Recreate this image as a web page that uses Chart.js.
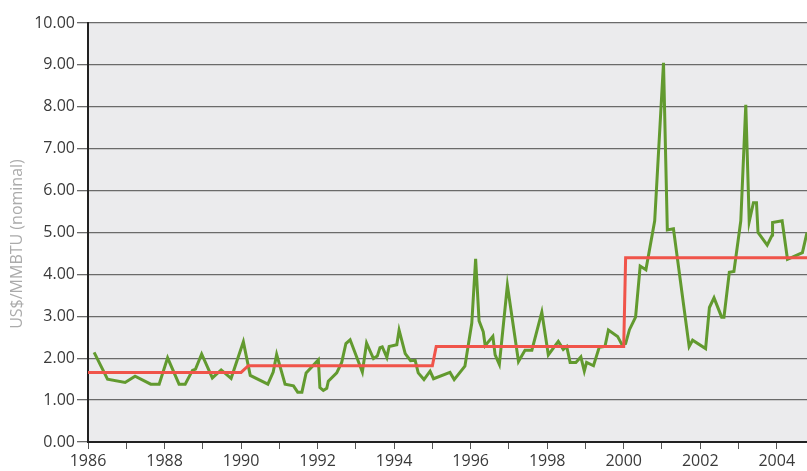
<!DOCTYPE html>
<html>
<head>
<meta charset="utf-8">
<script src="https://cdn.jsdelivr.net/npm/chart.js@4.4.1/dist/chart.umd.min.js"></script>
<style>
  html, body { margin: 0; padding: 0; background: #ffffff; }
  #wrap { width: 807px; height: 471px; }
</style>
</head>
<body>
<div id="wrap"><canvas id="gasChart" width="807" height="471"></canvas></div>
<script>
// monthly gas price (green line)
const priceYears = [
  1986.16, 1986.51, 1986.97, 1987.23, 1987.64, 1987.86, 1988.08, 1988.38, 1988.54, 1988.73,
  1988.81, 1988.97, 1989.25, 1989.48, 1989.74, 1990.06, 1990.24, 1990.70, 1990.84, 1990.93,
  1991.15, 1991.37, 1991.48, 1991.59, 1991.70, 1992.02, 1992.06, 1992.15, 1992.24, 1992.28,
  1992.50, 1992.63, 1992.74, 1992.85, 1993.17, 1993.28, 1993.46, 1993.56, 1993.63, 1993.69,
  1993.81, 1993.87, 1994.07, 1994.13, 1994.29, 1994.43, 1994.55, 1994.63, 1994.78, 1994.94,
  1995.03, 1995.46, 1995.57, 1995.85, 1996.03, 1996.13, 1996.22, 1996.33, 1996.38, 1996.58,
  1996.64, 1996.75, 1996.96, 1997.25, 1997.42, 1997.60, 1997.86, 1998.03, 1998.29, 1998.42,
  1998.51, 1998.60, 1998.75, 1998.88, 1998.97, 1999.03, 1999.21, 1999.36, 1999.51, 1999.60,
  1999.84, 1999.95, 2000.05, 2000.15, 2000.31, 2000.43, 2000.58, 2000.81, 2001.04, 2001.14,
  2001.30, 2001.71, 2001.80, 2002.14, 2002.24, 2002.36, 2002.56, 2002.62, 2002.76, 2002.88,
  2003.06, 2003.19, 2003.28, 2003.39, 2003.47, 2003.51, 2003.75, 2003.88, 2003.89, 2004.14,
  2004.28, 2004.67, 2004.79
];
const priceValues = [
  2.14, 1.50, 1.42, 1.57, 1.38, 1.38, 2.01, 1.38, 1.38, 1.71,
  1.74, 2.10, 1.53, 1.72, 1.52, 2.39, 1.59, 1.38, 1.67, 2.09,
  1.38, 1.34, 1.19, 1.19, 1.65, 1.96, 1.30, 1.23, 1.28, 1.45,
  1.65, 1.90, 2.35, 2.44, 1.67, 2.36, 1.99, 2.05, 2.25, 2.27,
  2.02, 2.28, 2.32, 2.67, 2.11, 1.94, 1.95, 1.65, 1.49, 1.69,
  1.51, 1.66, 1.49, 1.81, 2.84, 4.37, 2.89, 2.63, 2.30, 2.52,
  2.08, 1.85, 3.74, 1.92, 2.19, 2.19, 3.10, 2.08, 2.40, 2.21,
  2.28, 1.90, 1.90, 2.03, 1.69, 1.90, 1.82, 2.26, 2.28, 2.67,
  2.52, 2.33, 2.35, 2.68, 2.98, 4.20, 4.11, 5.28, 9.05, 5.06,
  5.09, 2.28, 2.43, 2.23, 3.21, 3.44, 2.98, 2.98, 4.05, 4.07,
  5.28, 8.05, 5.26, 5.71, 5.71, 5.00, 4.70, 4.94, 5.24, 5.28,
  4.36, 4.52, 5.00
];

// five-year averages (red step line)
const avgYears = [1986.0, 1990.0, 1990.19, 1995.0, 1995.1, 2000.0, 2000.05, 2004.79];
const avgValues = [1.66, 1.66, 1.82, 1.82, 2.28, 2.28, 4.40, 4.40];

// axis ranges and labels
const xMin = 1986;
const xMax = 2004.79;
const yMin = 0;
const yMax = 10;
const yTitle = 'US$/MMBTU (nominal)';

const fontFamily = "'Open Sans', sans-serif";

// paint the grey plot area behind everything
const plotBackground = {
  id: 'plotBackground',
  beforeDraw(chart) {
    const { ctx, chartArea } = chart;
    ctx.save();
    ctx.fillStyle = '#ebebed';
    ctx.fillRect(chartArea.left, chartArea.top, chartArea.right - chartArea.left, chartArea.bottom - chartArea.top);
    ctx.restore();
  }
};

// y title sits a little below the middle of the axis in the original
const yTitleLabel = {
  id: 'yTitleLabel',
  afterDraw(chart) {
    const { ctx } = chart;
    ctx.save();
    ctx.translate(17, 244);
    ctx.rotate(-Math.PI / 2);
    ctx.fillStyle = '#ababab';
    ctx.font = '16px ' + fontFamily;
    ctx.textAlign = 'center';
    ctx.textBaseline = 'middle';
    ctx.fillText(yTitle, 0, 0);
    ctx.restore();
  }
};

const ctx = document.getElementById('gasChart').getContext('2d');
new Chart(ctx, {
  type: 'line',
  data: {
    datasets: [
      {
        label: 'Average',
        data: avgYears.map((x, i) => ({ x: x, y: avgValues[i] })),
        borderColor: '#f0544a',
        borderWidth: 3,
        pointRadius: 0,
        tension: 0
      },
      {
        label: 'Price',
        data: priceYears.map((x, i) => ({ x: x, y: priceValues[i] })),
        borderColor: '#629a2f',
        borderWidth: 3,
        pointRadius: 0,
        tension: 0
      }
    ]
  },
  options: {
    responsive: false,
    animation: false,
    layout: { padding: { top: 23, right: 0, left: 0, bottom: 0 } },
    plugins: {
      legend: { display: false },
      tooltip: { enabled: false }
    },
    scales: {
      x: {
        type: 'linear',
        min: xMin,
        max: xMax,
        afterFit: scale => { scale.height = 29; },
        border: { color: '#222222', width: 2 },
        grid: { drawOnChartArea: false, drawTicks: true, tickLength: 7, color: '#555555' },
        ticks: {
          stepSize: 1,
          includeBounds: false,
          autoSkip: false,
          maxRotation: 0,
          padding: 3,
          color: '#3a3a3a',
          font: { family: fontFamily, size: 16 },
          callback: v => (Number.isInteger(v) && v % 2 === 0) ? String(v) : ''
        }
      },
      y: {
        min: yMin,
        max: yMax,
        afterFit: scale => { scale.width = 88; },
        border: { color: '#222222', width: 2 },
        grid: { color: '#6a6a6a', lineWidth: 1.3, tickLength: 11 },
        ticks: {
          stepSize: 1,
          padding: 2,
          color: '#3a3a3a',
          font: { family: fontFamily, size: 16 },
          callback: v => v.toFixed(2)
        }
      }
    }
  },
  plugins: [plotBackground, yTitleLabel]
});
</script>
</body>
</html>
